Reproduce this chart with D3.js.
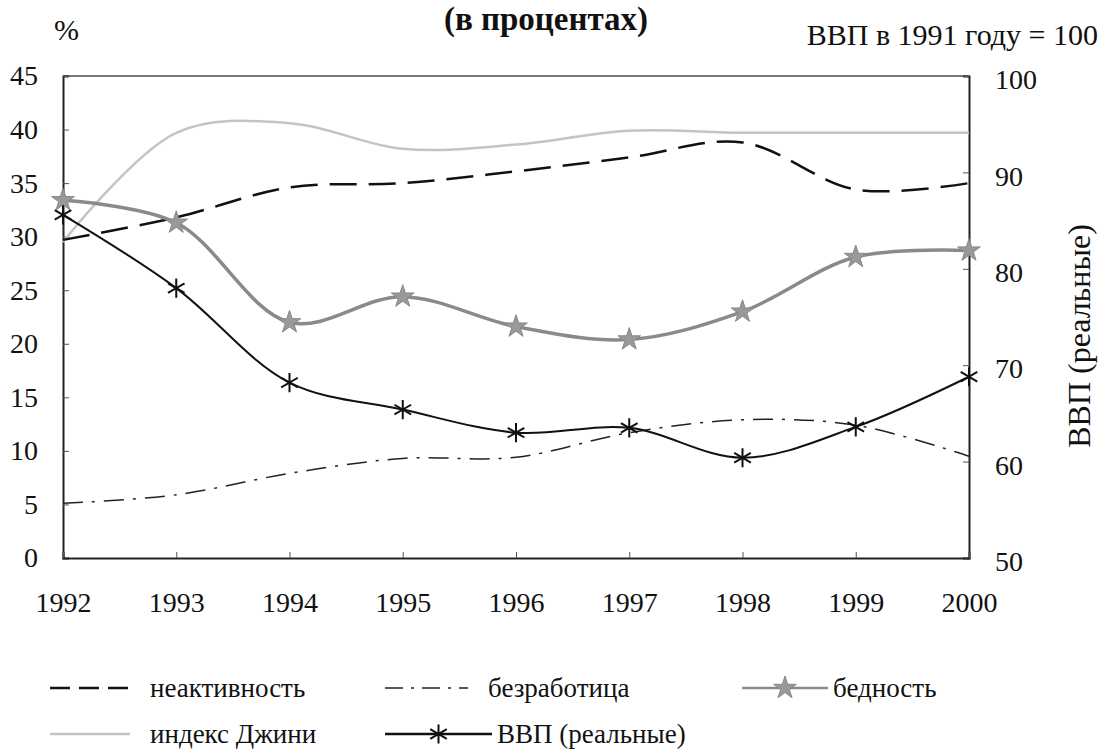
<!DOCTYPE html>
<html>
<head>
<meta charset="utf-8">
<script src="https://cdn.jsdelivr.net/npm/d3@7"></script>
<style>
  body { margin: 0; background: #fff; }
</style>
</head>
<body>
<svg id="chart"></svg>
<script>
// данные
const years = [1992, 1993, 1994, 1995, 1996, 1997, 1998, 1999, 2000];
const inactivity = [29.7, 31.8, 34.6, 35.0, 36.1, 37.4, 38.8, 34.4, 35.0];
const unemployment = [5.1, 5.9, 7.9, 9.3, 9.4, 11.7, 12.9, 12.4, 9.5];
const poverty = [33.4, 31.3, 22.0, 24.4, 21.6, 20.4, 23.0, 28.1, 28.7];
const gini = [29.5, 39.7, 40.6, 38.2, 38.6, 39.9, 39.7, 39.7, 39.7];
const gdp = [85.6, 78.0, 68.2, 65.4, 63.0, 63.5, 60.4, 63.6, 68.8];

const leftTicks = [0, 5, 10, 15, 20, 25, 30, 35, 40, 45];
const rightTicks = [50, 60, 70, 80, 90, 100];

var margin = {top: 76, right: 134, bottom: 193, left: 63},
width = 1103 - margin.left - margin.right,
height = 751 - margin.top - margin.bottom;

const serif = "Liberation Serif";

const svg = d3.select("#chart")
  .attr("width", 1103)
  .attr("height", 751);
const g = svg.append("g").attr("transform", `translate(${margin.left},${margin.top})`);

const x = d3.scaleLinear().domain([1992, 2000]).range([0, width]);
const yL = d3.scaleLinear().domain([0, 45]).range([height, 0]);
const yR = d3.scaleLinear().domain([50, 100]).range([height, 0]);

// рамка
g.append("line").attr("x1", 0).attr("x2", width).attr("y1", 0).attr("y2", 0)
  .attr("stroke", "#777").attr("stroke-width", 2);

// оси, засечки внутрь
const axL = g.append("g")
  .call(d3.axisLeft(yL).tickValues(leftTicks).tickSize(-6).tickPadding(25));
const axR = g.append("g").attr("transform", `translate(${width},0)`)
  .call(d3.axisRight(yR).tickValues(rightTicks).tickSize(-6).tickPadding(26));
const axB = g.append("g").attr("transform", `translate(0,${height})`)
  .call(d3.axisBottom(x).tickValues(years).tickFormat(d3.format("d")).tickSize(-6).tickPadding(34));

[axL, axR, axB].forEach(a => {
  a.attr("font-family", serif).attr("font-size", 28);
  a.select(".domain").attr("stroke", "#222").attr("stroke-width", 2);
  a.selectAll(".tick line").attr("stroke", "#555").attr("stroke-width", 1);
  a.selectAll(".tick text").style("font-family", serif).style("font-size", "28px").attr("fill", "#111");
});
axB.selectAll(".tick text").attr("dy", "0.71em");
axR.selectAll(".tick text").attr("dy", "0.45em");

const curve = d3.curveCatmullRom.alpha(0.5);
const lineL = vals => d3.line().curve(curve).x((d, i) => x(years[i])).y(d => yL(d))(vals);
const lineR = vals => d3.line().curve(curve).x((d, i) => x(years[i])).y(d => yR(d))(vals);

const styles = {
  gini: {stroke: "#c4c4c4", width: 2.5, dash: null},
  inactivity: {stroke: "#111", width: 2.5, dash: "27,12"},
  unemployment: {stroke: "#222", width: 1.5, dash: "20,9,3,9"},
  poverty: {stroke: "#8a8a8a", width: 3.5, dash: null},
  gdp: {stroke: "#111", width: 2, dash: null}
};

function drawLine(d, s) {
  g.append("path").attr("d", d).attr("fill", "none")
    .attr("stroke", s.stroke).attr("stroke-width", s.width)
    .attr("stroke-dasharray", s.dash);
}

drawLine(lineL(gini), styles.gini);
drawLine(lineL(inactivity), styles.inactivity);
drawLine(lineL(unemployment), styles.unemployment);
drawLine(lineL(poverty), styles.poverty);
drawLine(lineR(gdp), styles.gdp);

const star = d3.symbol().type(d3.symbolStar).size(160);
const aster = d3.symbol().type(d3.symbolAsterisk).size(260);

g.selectAll(".pov").data(poverty).enter().append("path")
  .attr("class", "pov")
  .attr("d", star)
  .attr("transform", (d, i) => `translate(${x(years[i])},${yL(d)})`)
  .attr("fill", "#999").attr("stroke", "#888").attr("stroke-width", 1);

g.selectAll(".gdp").data(gdp).enter().append("path")
  .attr("class", "gdp")
  .attr("d", aster)
  .attr("transform", (d, i) => `translate(${x(years[i])},${yR(d)})`)
  .attr("fill", "none").attr("stroke", "#111").attr("stroke-width", 2);

// подписи
function label(xp, yp, txt, size, anchor) {
  return svg.append("text").attr("x", xp).attr("y", yp).attr("text-anchor", anchor || "start")
    .style("font-family", serif).style("font-size", size + "px").attr("fill", "#111").text(txt);
}
label(546, 30, "(в процентах)", 33, "middle").style("font-weight", "bold");
label(54, 40, "%", 30);
label(1098, 45, "ВВП в 1991 году = 100", 30, "end");
svg.append("text").attr("transform", "translate(1090,336) rotate(-90)")
  .attr("text-anchor", "middle").style("font-family", serif).style("font-size", "32px")
  .attr("fill", "#111").text("ВВП (реальные)");

// легенда
const legend = [
  {label: "неактивность", s: styles.inactivity, dash: "20,9", x0: 50, x1: 130, tx: 150, y: 688},
  {label: "безработица", s: styles.unemployment, dash: "18,8,3,8", x0: 385, x1: 468, tx: 488, y: 688},
  {label: "бедность", s: styles.poverty, x0: 742, x1: 828, tx: 833, y: 688, mark: star, fill: "#999"},
  {label: "индекс Джини", s: styles.gini, x0: 50, x1: 130, tx: 150, y: 734},
  {label: "ВВП (реальные)", s: styles.gdp, x0: 385, x1: 492, tx: 497, y: 734, mark: aster}
];

legend.forEach(l => {
  svg.append("line").attr("x1", l.x0).attr("x2", l.x1).attr("y1", l.y).attr("y2", l.y)
    .attr("stroke", l.s.stroke).attr("stroke-width", l.mark ? 2.5 : l.s.width)
    .attr("stroke-dasharray", l.dash || l.s.dash);
  if (l.mark) {
    svg.append("path").attr("d", l.mark)
      .attr("transform", `translate(${(l.x0 + l.x1) / 2},${l.y})`)
      .attr("fill", l.fill || "none").attr("stroke", l.fill ? "#888" : l.s.stroke).attr("stroke-width", l.fill ? 1 : 2);
  }
  label(l.tx, l.y + 9, l.label, 27);
});
</script>
</body>
</html>
